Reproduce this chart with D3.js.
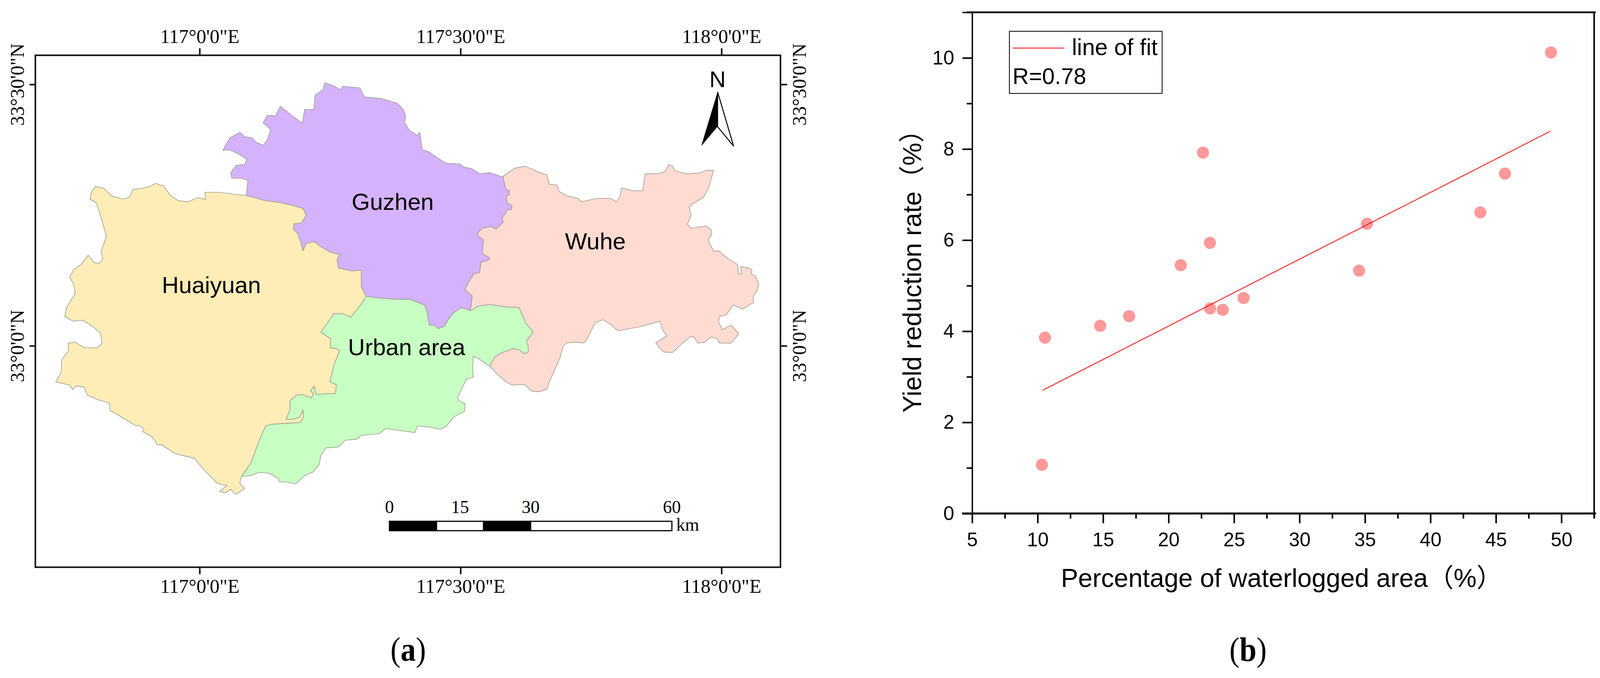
<!DOCTYPE html>
<html>
<head>
<meta charset="utf-8">
<script src="https://cdn.jsdelivr.net/npm/d3@7"></script>
<style>
body { margin: 0; background: #fff; }
text { fill: #000; }
</style>
</head>
<body>
<div id="chart"></div>
<script>
// panel (a): county outlines, [arc minutes east of 117E, arc minutes north of 33N]
var guzhenNorth = [[5.37,17.25],[5.55,18.98],[4.81,19.24],[3.69,19.24],[3.58,19.88],[4.17,20.70],[5.18,20.83],[5.44,21.37],[4.81,21.81],[3.88,22.33],[3.13,22.51],[2.68,22.40],[2.94,22.97],[3.50,23.87],[4.62,24.51],[5.18,24.00],[6.04,23.87],[6.48,23.36],[7.30,23.02],[7.79,23.61],[8.16,24.82],[7.30,25.60],[7.79,26.45],[8.72,26.39],[9.28,27.48],[10.58,26.45],[11.81,25.54],[12.08,27.14],[13.12,27.09],[13.27,28.76],[14.20,29.41],[14.39,30.18],[15.24,29.92],[16.18,29.41],[16.47,29.79],[18.41,29.61],[18.97,28.56],[20.83,28.38],[22.70,27.86],[23.44,27.09],[23.70,26.32],[23.55,25.67],[24.08,24.77],[25.05,24.13],[25.31,24.51],[25.60,22.51],[26.24,22.33],[28.29,20.96],[29.96,20.86],[30.34,20.52],[31.27,20.34],[32.20,19.75],[33.32,19.88],[34.62,19.44],[34.86,19.44]];
var guzhenWuhe = [[34.86,19.44],[35.21,17.95],[35.63,17.82],[35.58,17.30],[35.26,17.18],[35.35,16.40],[35.92,16.07],[35.86,15.63],[35.41,15.63],[34.78,14.60],[34.92,14.21],[34.06,13.39],[33.49,13.70],[32.49,13.49],[31.97,12.93],[32.06,12.54],[32.63,12.15],[32.49,10.61],[33.35,10.09],[33.20,9.84],[32.35,9.58],[32.20,8.42],[31.49,8.24],[31.06,7.52],[30.49,6.49],[31.34,5.72],[31.14,4.04]];
var guzhenUrban = [[31.14,4.04],[30.06,4.38],[29.20,3.79],[28.48,2.88],[28.14,2.24],[27.48,1.98],[26.91,2.37],[26.42,2.37],[26.16,3.79],[25.87,4.69],[24.19,5.33],[22.70,5.33],[20.83,5.46],[19.16,5.67]];
var guzhenHuaiyuan = [[19.16,5.67],[18.60,6.75],[18.60,8.68],[17.48,8.60],[15.99,8.94],[15.80,9.84],[16.10,10.48],[15.06,10.74],[13.94,11.38],[13.19,11.95],[12.26,11.77],[11.89,10.92],[11.63,11.90],[11.26,12.93],[10.77,13.39],[10.88,14.01],[11.70,14.09],[12.26,14.99],[11.89,15.76],[10.58,16.15],[9.47,16.40],[7.60,16.66],[5.37,17.25]];
var huaiyuanOuter = [[5.37,17.25],[3.69,17.43],[2.39,17.61],[0.60,17.61],[0.71,16.79],[-0.22,17.00],[-1.34,16.53],[-2.46,16.66],[-3.39,17.30],[-4.14,18.33],[-5.07,18.64],[-5.63,18.33],[-6.56,18.08],[-7.68,17.95],[-8.05,17.05],[-8.80,16.84],[-10.10,17.18],[-11.03,18.08],[-11.96,18.28],[-12.41,17.69],[-12.60,16.84],[-11.89,16.40],[-11.40,14.99],[-11.03,13.70],[-10.73,12.67],[-11.03,11.64],[-11.33,10.87],[-11.11,9.97],[-11.59,9.45],[-12.15,9.58],[-12.82,10.40],[-13.64,9.32],[-14.39,8.81],[-14.95,7.91],[-14.46,7.00],[-14.31,5.97],[-14.83,5.20],[-15.32,4.30],[-15.50,3.35],[-14.57,2.83],[-13.45,2.94],[-12.15,2.11],[-11.40,1.47],[-11.22,0.30],[-11.78,-0.25],[-13.27,-0.20],[-14.31,0.43],[-15.13,0.30],[-15.06,-0.58],[-15.88,-1.60],[-15.88,-2.99],[-16.55,-4.13],[-14.95,-4.51],[-14.57,-5.01],[-14.20,-4.58],[-13.27,-4.76],[-12.90,-5.65],[-11.78,-6.15],[-10.36,-6.58],[-10.29,-7.42],[-9.17,-8.05],[-7.31,-9.19],[-6.93,-9.12],[-6.37,-9.57],[-6.56,-9.82],[-5.44,-10.46],[-4.88,-11.34],[-4.32,-11.39],[-2.83,-12.36],[-0.60,-12.91],[0.52,-14.26],[2.01,-15.77],[3.13,-16.03],[2.31,-16.71],[2.94,-16.86],[3.58,-16.46],[4.17,-17.04],[5.18,-16.36],[4.62,-15.77],[4.81,-15.01]];
var huaiyuanUrban = [[4.81,-15.01],[5.93,-13.37],[6.86,-10.84],[7.60,-9.19],[8.16,-9.01],[11.52,-8.81],[11.96,-8.18],[11.89,-7.34],[11.52,-8.18],[10.77,-8.43],[9.95,-8.43],[10.40,-7.29],[10.40,-6.28],[11.14,-5.65],[11.89,-5.60],[12.82,-5.98],[13.12,-5.52],[12.75,-5.14],[13.19,-4.63],[13.38,-5.57],[15.62,-5.47],[15.73,-4.46],[14.98,-4.13],[15.43,-2.23],[16.10,-0.58],[15.80,-0.33],[15.06,-0.25],[15.06,0.81],[13.94,1.57],[15.06,3.14],[15.43,3.71],[16.55,3.66],[17.37,3.27],[18.41,4.56],[19.16,5.67]];
var urbanOuter = [[4.81,-15.01],[5.93,-14.89],[6.86,-14.51],[7.98,-14.63],[9.09,-15.27],[9.17,-15.60],[10.21,-15.65],[11.03,-15.85],[12.08,-14.89],[13.01,-14.51],[13.75,-13.62],[13.94,-12.61],[14.50,-11.72],[15.99,-11.60],[16.73,-10.84],[18.04,-10.71],[18.60,-10.28],[20.65,-10.08],[21.39,-9.50],[24.75,-9.95],[25.05,-9.19],[26.42,-9.32],[27.62,-9.57],[28.29,-9.32],[29.22,-8.18],[29.96,-7.75],[30.45,-7.55],[30.52,-6.66],[29.78,-6.28],[29.67,-5.90],[30.34,-4.51],[30.71,-3.80],[31.46,-3.62],[31.38,-2.61],[31.46,-1.22],[32.06,-1.47],[33.35,-2.35]];
var urbanWuhe = [[33.35,-2.35],[33.98,-1.22],[34.78,-0.76],[36.06,-0.33],[36.78,-0.46],[37.29,-0.91],[37.78,-0.71],[37.78,-0.08],[37.58,0.56],[38.35,1.57],[37.49,2.63],[36.72,4.38],[35.06,4.48],[33.35,4.74],[32.06,4.56],[31.14,4.04]];
var wuheOuter = [[33.35,-2.35],[34.20,-3.24],[35.06,-4.00],[35.92,-4.51],[37.35,-4.43],[38.21,-5.22],[39.07,-5.27],[39.92,-4.96],[40.21,-4.13],[41.07,-2.23],[41.50,-1.22],[41.78,-0.08],[42.21,0.35],[43.36,0.43],[44.07,0.30],[44.50,0.68],[44.93,1.57],[45.50,2.63],[46.36,3.01],[47.36,2.37],[48.08,1.73],[50.51,2.16],[52.94,2.83],[53.22,1.85],[53.71,1.13],[52.45,0.36],[52.94,-0.33],[53.37,-0.71],[54.37,-0.76],[55.37,0.18],[56.37,1.01],[56.80,1.06],[57.31,0.30],[58.09,0.43],[58.80,1.01],[59.52,0.81],[59.80,0.30],[61.09,0.30],[61.66,0.94],[61.95,1.44],[61.09,2.37],[60.09,1.85],[59.66,2.76],[59.80,3.40],[60.52,3.53],[61.37,4.69],[62.38,4.22],[63.66,4.94],[63.66,5.72],[64.09,6.36],[64.29,7.00],[63.95,7.91],[63.38,8.29],[63.52,8.50],[63.38,8.86],[62.23,9.14],[62.29,8.24],[61.95,8.24],[61.86,9.32],[60.80,9.97],[60.00,10.61],[59.80,10.87],[59.09,10.87],[58.46,12.15],[58.89,12.80],[58.80,13.31],[58.23,13.75],[57.51,13.65],[56.51,13.49],[56.08,13.96],[56.51,14.99],[56.28,15.89],[56.66,16.27],[57.94,17.05],[58.51,18.08],[58.80,19.11],[59.09,20.14],[58.23,20.14],[57.51,19.83],[55.94,19.75],[54.65,20.09],[54.37,20.65],[53.94,20.78],[53.51,20.01],[52.65,19.75],[51.22,19.75],[50.94,17.82],[49.93,17.77],[48.50,18.13],[48.36,17.18],[47.93,16.53],[47.22,16.92],[45.64,16.92],[43.93,16.53],[43.50,16.92],[42.36,17.18],[41.35,17.69],[41.07,18.46],[40.21,18.54],[39.92,19.62],[38.78,20.01],[37.49,20.60],[36.21,20.39],[34.86,19.44]];

var regionNames = ["Huaiyuan", "Guzhen", "Wuhe", "Urban area"];
var regionColors = ["#FFEDB8", "#D4B2FC", "#FFDBD1", "#C8FFC3"];

var lonTicks = [0, 30, 60];
var lonTickLabels = ["117°0'0\"E", "117°30'0\"E", "118°0'0\"E"];
var latTicks = [0, 30];
var latTickLabels = ["33°0'0\"N", "33°30'0\"N"];

var scaleBarBreaks = [0, 10, 20, 30, 60];
var scaleBarLabels = [0, 15, 30, 60];

// panel (b): scatter
var waterloggedPct = [10.33, 10.56, 14.78, 16.99, 20.93, 22.63, 23.16, 23.17, 24.14, 25.73, 34.55, 35.15, 43.81, 45.69, 49.2];
var yieldReduction = [1.07, 3.86, 4.12, 4.33, 5.45, 7.92, 5.94, 4.50, 4.47, 4.73, 5.33, 6.36, 6.61, 7.46, 10.12];
var fitX = [10.36, 49.15];
var fitY = [2.70, 8.39];
var xMajor = [5, 10, 15, 20, 25, 30, 35, 40, 45, 50];
var xMinor = [7.5, 12.5, 17.5, 22.5, 27.5, 32.5, 37.5, 42.5, 47.5, 52.5];
var yMajor = [0, 2, 4, 6, 8, 10];
var yMinor = [1, 3, 5, 7, 9, 11];

var sans = '"Liberation Sans", "Noto Sans CJK SC", sans-serif';
var serif = '"Liberation Serif", serif';

var svg = d3.select("#chart").append("svg")
  .attr("width", 4110)
  .attr("height", 1735);

svg.append("rect").attr("width", 4110).attr("height", 1735).attr("fill", "#fff");

drawMap();
drawScatter();

// caption letters, parentheses run tall in the original
svg.append("text").attr("transform", "translate(1045,1691) scale(1,1.12)").attr("text-anchor", "middle")
  .style("font-family", serif).style("font-size", "78px")
  .html('(<tspan font-weight="bold">a</tspan>)');
svg.append("text").attr("transform", "translate(3195,1691) scale(1,1.12)").attr("text-anchor", "middle")
  .style("font-family", serif).style("font-size", "78px")
  .html('(<tspan font-weight="bold">b</tspan>)');

function drawMap() {
    var frame = {left: 90.5, top: 141.5, right: 1998, bottom: 1451.5};

    var lon = d3.scaleLinear().domain([0, 60]).range([511, 1847]);
    var lat = d3.scaleLinear().domain([0, 30]).range([885, 216]);

    var line = d3.line()
      .x(function (d) { return lon(d[0]); })
      .y(function (d) { return lat(d[1]); });

    var outlines = [
      huaiyuanOuter.concat(huaiyuanUrban, guzhenHuaiyuan),
      guzhenNorth.concat(guzhenWuhe, guzhenUrban, guzhenHuaiyuan),
      wuheOuter.concat(guzhenWuhe, urbanWuhe.slice().reverse()),
      urbanOuter.concat(urbanWuhe, guzhenUrban, huaiyuanUrban.slice().reverse())
    ];

    svg.append("g").selectAll("path")
      .data(outlines)
      .enter().append("path")
      .attr("d", function (d) { return line(d) + "Z"; })
      .attr("fill", function (d, i) { return regionColors[i]; })
      .attr("stroke", "#9c9c90")
      .attr("stroke-width", 1.6)
      .attr("stroke-linejoin", "round");

    // label spots in the same arc minutes as the outlines
    var labelSpots = [[1.35, 6.05], [22.2, 15.6], [45.5, 11.08], [23.8, -1.08]];
    svg.append("g").selectAll("text")
      .data(regionNames)
      .enter().append("text")
      .attr("x", function (d, i) { return lon(labelSpots[i][0]); })
      .attr("y", function (d, i) { return lat(labelSpots[i][1]); })
      .attr("text-anchor", "middle")
      .style("font-family", sans)
      .style("font-size", "60px")
      .text(function (d) { return d; });

    svg.append("rect")
      .attr("x", frame.left).attr("y", frame.top)
      .attr("width", frame.right - frame.left)
      .attr("height", frame.bottom - frame.top)
      .attr("fill", "none").attr("stroke", "#111").attr("stroke-width", 4);

    function lonLabel(d) { return lonTickLabels[lonTicks.indexOf(d)]; }
    function latLabel(d) { return latTickLabels[latTicks.indexOf(d)]; }

    function styleMapAxis(g) {
        g.select(".domain").remove();
        g.selectAll("line").attr("stroke", "#111").attr("stroke-width", 4);
        g.selectAll("text").style("font-family", serif).style("font-size", "50px").attr("dy", 0);
    }

    var top = svg.append("g").attr("transform", "translate(0," + frame.top + ")")
      .call(d3.axisTop(lon).tickValues(lonTicks).tickSize(18).tickFormat(lonLabel));
    styleMapAxis(top);
    top.selectAll("text").attr("y", -32);

    var bottom = svg.append("g").attr("transform", "translate(0," + frame.bottom + ")")
      .call(d3.axisBottom(lon).tickValues(lonTicks).tickSize(18).tickFormat(lonLabel));
    styleMapAxis(bottom);
    bottom.selectAll("text").attr("y", 65);

    var left = svg.append("g").attr("transform", "translate(" + frame.left + ",0)")
      .call(d3.axisLeft(lat).tickValues(latTicks).tickSize(15).tickFormat(latLabel));
    styleMapAxis(left);
    left.selectAll("text").attr("x", 0).attr("text-anchor", "middle")
      .attr("transform", "translate(-30,0) rotate(-90)");

    var right = svg.append("g").attr("transform", "translate(" + frame.right + ",0)")
      .call(d3.axisRight(lat).tickValues(latTicks).tickSize(17).tickFormat(latLabel));
    styleMapAxis(right);
    right.selectAll("text").attr("x", 0).attr("text-anchor", "middle")
      .attr("transform", "translate(65,0) rotate(-90)");

    // north arrow
    svg.append("text").attr("x", 1837).attr("y", 223).attr("text-anchor", "middle")
      .style("font-family", sans).style("font-size", "58px").text("N");
    svg.append("path").attr("d", "M1837,235L1795,374L1837,324Z").attr("fill", "#000");
    svg.append("path").attr("d", "M1837,235L1878,374L1837,324Z")
      .attr("fill", "#fff").attr("stroke", "#000").attr("stroke-width", 2.5);

    // scale bar
    var km = d3.scaleLinear().domain([0, 60]).range([997, 1720]);
    svg.append("g").selectAll("rect")
      .data(d3.pairs(scaleBarBreaks))
      .enter().append("rect")
      .attr("x", function (d) { return km(d[0]); })
      .attr("y", 1334)
      .attr("width", function (d) { return km(d[1]) - km(d[0]); })
      .attr("height", 24)
      .attr("fill", function (d, i) { return i % 2 ? "#fff" : "#000"; })
      .attr("stroke", "#000")
      .attr("stroke-width", 3);
    svg.append("g").selectAll("text")
      .data(scaleBarLabels)
      .enter().append("text")
      .attr("x", function (d) { return km(d); })
      .attr("y", 1313)
      .attr("text-anchor", "middle")
      .style("font-family", serif).style("font-size", "46px")
      .text(function (d) { return d; });
    svg.append("text").attr("x", 1731).attr("y", 1358)
      .style("font-family", serif).style("font-size", "46px").text("km");
}

function drawScatter() {
    var x = d3.scaleLinear().domain([5, 52.5]).range([2488.7, 4081]);
    var y = d3.scaleLinear().domain([0, 11]).range([1314, 31.6]);

    svg.append("line").attr("x1", 4081).attr("x2", 4081).attr("y1", 30).attr("y2", 1327)
      .attr("stroke", "#000").attr("stroke-width", 4);

    var yAxis = svg.append("g").attr("transform", "translate(2488.7,0)")
      .call(d3.axisLeft(y).tickValues(yMajor).tickSize(25).tickFormat(d3.format("d")));
    yAxis.select(".domain").attr("stroke", "#000").attr("stroke-width", 3.5);
    yAxis.selectAll("line").attr("stroke", "#000").attr("stroke-width", 4);
    yAxis.selectAll("text").style("font-family", sans).style("font-size", "50px").attr("x", -46);

    var yAxisMinor = svg.append("g").attr("transform", "translate(2488.7,0)")
      .call(d3.axisLeft(y).tickValues(yMinor).tickSize(14).tickFormat(""));
    yAxisMinor.select(".domain").remove();
    yAxisMinor.selectAll("line").attr("stroke", "#000").attr("stroke-width", 4);

    // top frame line runs on from the minor tick at 11
    svg.append("line").attr("x1", 2475).attr("x2", 4085).attr("y1", y(11)).attr("y2", y(11))
      .attr("stroke", "#000").attr("stroke-width", 4.5);
    svg.append("line").attr("x1", 2463).attr("x2", 4086).attr("y1", y(0)).attr("y2", y(0))
      .attr("stroke", "#000").attr("stroke-width", 5);

    var xAxis = svg.append("g").attr("transform", "translate(0,1314)")
      .call(d3.axisBottom(x).tickValues(xMajor).tickSize(25).tickFormat(d3.format("d")));
    xAxis.select(".domain").remove();
    xAxis.selectAll("line").attr("stroke", "#000").attr("stroke-width", 4);
    xAxis.selectAll("text").style("font-family", sans).style("font-size", "50px").attr("y", 84).attr("dy", 0);

    var xAxisMinor = svg.append("g").attr("transform", "translate(0,1314)")
      .call(d3.axisBottom(x).tickValues(xMinor).tickSize(13).tickFormat(""));
    xAxisMinor.select(".domain").remove();
    xAxisMinor.selectAll("line").attr("stroke", "#000").attr("stroke-width", 4);

    svg.append("g").selectAll("circle")
      .data(waterloggedPct)
      .enter().append("circle")
      .attr("cx", function (d) { return x(d); })
      .attr("cy", function (d, i) { return y(yieldReduction[i]); })
      .attr("r", 15.5)
      .attr("fill", "#FF9999");

    var fitLine = d3.line()
      .x(function (d) { return x(d); })
      .y(function (d, i) { return y(fitY[i]); });

    svg.append("path")
      .attr("d", fitLine(fitX))
      .attr("fill", "none")
      .attr("stroke", "#FF0000")
      .attr("stroke-width", 2);

    // axis titles
    svg.append("text").attr("x", 2716).attr("y", 1502)
      .style("font-family", sans).style("font-size", "66px")
      .text("Percentage of waterlogged area（%）");
    svg.append("text")
      .attr("transform", "translate(2358,1056) rotate(-90)")
      .style("font-family", sans).style("font-size", "66px")
      .text("Yield reduction rate（%）");

    // legend
    svg.append("rect").attr("x", 2584).attr("y", 80).attr("width", 391).attr("height", 159)
      .attr("fill", "#fff").attr("stroke", "#000").attr("stroke-width", 2);
    svg.append("line").attr("x1", 2592).attr("x2", 2725).attr("y1", 123).attr("y2", 123)
      .attr("stroke", "#FF0000").attr("stroke-width", 2);
    svg.append("text").attr("x", 2744).attr("y", 141)
      .style("font-family", sans).style("font-size", "59px").text("line of fit");
    svg.append("text").attr("x", 2592).attr("y", 215)
      .style("font-family", sans).style("font-size", "58px").text("R=0.78");
}
</script>
</body>
</html>
